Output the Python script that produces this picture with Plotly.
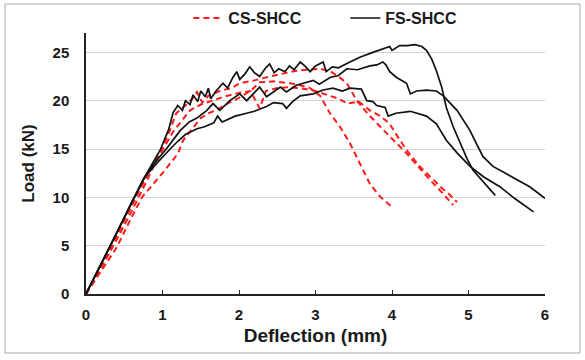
import plotly.graph_objects as go

# FS-SHCC specimens (black solid)
fs1_x = [0, 0.2, 0.4, 0.6, 0.76, 0.97, 1.08, 1.14, 1.2, 1.26, 1.3, 1.36, 1.4, 1.46, 1.5, 1.56, 1.6, 1.63, 1.7, 1.79,
         1.85, 1.92, 1.97, 2.01, 2.08, 2.14, 2.2, 2.27, 2.34, 2.4, 2.46, 2.52, 2.6, 2.66, 2.72, 2.8, 2.86, 2.93, 3.0,
         3.1, 3.14, 3.22, 3.3, 3.45, 3.58, 3.75, 3.9, 3.97, 4.0, 4.1, 4.2, 4.3, 4.39, 4.45, 4.52, 4.58, 4.65, 4.71,
         4.8, 4.89, 4.98, 5.06, 5.22, 5.35]
fs1_y = [0, 3.1, 6.3, 9.5, 12.0, 14.9, 17.0, 18.8, 19.5, 19.0, 20.0, 19.6, 20.6, 19.9, 21.0, 20.4, 21.3, 20.2, 21.0, 21.8,
         21.3, 22.4, 23.0, 22.2, 22.8, 23.5, 22.9, 22.5, 23.3, 23.8, 22.9, 23.3, 23.0, 23.6, 23.2, 24.0, 23.6, 23.0, 23.6,
         24.0, 23.0, 23.5, 23.4, 24.0, 24.5, 25.0, 25.4, 25.6, 25.2, 25.7, 25.7, 25.8, 25.6, 25.2, 24.3, 23.1, 21.4, 19.3,
         17.3, 15.6, 14.0, 12.8, 11.4, 10.2]

fs2_x = [0, 0.2, 0.4, 0.6, 0.76, 0.92, 1.05, 1.23, 1.35, 1.45, 1.58, 1.66, 1.75, 1.88, 2.01, 2.1, 2.27, 2.36, 2.54, 2.62,
         2.75, 2.97, 3.05, 3.19, 3.3, 3.41, 3.55, 3.71, 3.8, 3.88, 3.92, 3.97, 4.06, 4.19, 4.24, 4.32, 4.45, 4.58, 4.67,
         4.85, 5.02, 5.1, 5.19, 5.32, 5.58, 5.8, 6.0]
fs2_y = [0, 3.1, 6.3, 9.5, 12.0, 13.8, 15.0, 16.9, 17.8, 18.2, 19.0, 19.7, 19.0, 20.0, 20.7, 20.0, 21.4, 20.4, 21.4, 20.9,
         21.6, 22.1, 21.7, 22.4, 22.6, 23.3, 23.2, 23.6, 23.7, 24.0, 23.7, 23.0, 22.4, 21.8, 20.7, 21.0, 21.1, 21.0, 20.5,
         19.0, 16.9, 15.6, 14.2, 13.2, 12.1, 11.1, 9.9]

fs3_x = [0, 0.2, 0.4, 0.6, 0.76, 0.9, 1.0, 1.1, 1.2, 1.3, 1.45, 1.55, 1.67, 1.72, 1.78, 1.84, 1.95, 2.1, 2.2, 2.36, 2.45,
         2.57, 2.62, 2.7, 2.8, 2.97, 3.1, 3.23, 3.35, 3.45, 3.6, 3.67, 3.75, 3.8, 3.91, 3.95, 4.05, 4.24, 4.35, 4.45,
         4.58, 4.71, 4.85, 5.02, 5.2, 5.41, 5.6, 5.85]
fs3_y = [0, 3.1, 6.3, 9.5, 12.0, 13.3, 14.2, 15.0, 15.8, 16.5, 17.1, 17.3, 17.7, 18.4, 17.8, 18.0, 18.4, 18.7, 18.9, 19.4,
         19.8, 19.7, 19.2, 19.9, 20.5, 20.7, 21.1, 21.3, 21.0, 21.3, 21.2, 20.0, 19.9, 19.5, 19.3, 18.4, 18.7, 18.9, 18.6,
         18.4, 17.6, 15.9, 14.6, 13.2, 12.1, 11.1, 9.9, 8.5]

# CS-SHCC specimens (red dashed)
cs1_x = [0, 0.2, 0.4, 0.6, 0.8, 1.0, 1.1, 1.18, 1.3, 1.4, 1.45, 1.52, 1.6, 1.75, 1.9, 2.01, 2.2, 2.4, 2.6, 2.75, 2.9,
         3.06, 3.2, 3.3, 3.41, 3.54, 3.7, 3.89, 4.02, 4.15, 4.28, 4.41, 4.52, 4.63, 4.72, 4.8]
cs1_y = [0, 2.9, 6.0, 9.2, 12.3, 15.2, 17.0, 18.7, 19.5, 20.3, 20.9, 19.8, 20.5, 21.0, 21.3, 21.8, 22.1, 22.5, 22.8, 23.1,
         23.2, 23.3, 23.0, 22.5, 21.8, 20.0, 18.5, 16.9, 15.9, 14.9, 13.7, 12.5, 11.6, 10.7, 9.9, 9.2]

cs2_x = [0, 0.2, 0.4, 0.6, 0.8, 0.92, 1.0, 1.14, 1.25, 1.36, 1.5, 1.65, 1.8, 2.0, 2.15, 2.27, 2.35, 2.5, 2.65, 2.8, 3.0,
         3.15, 3.3, 3.42, 3.5, 3.55, 3.71, 3.85, 3.97, 4.08, 4.19, 4.3, 4.41, 4.52, 4.63, 4.75, 4.85]
cs2_y = [0, 2.7, 5.6, 8.6, 11.8, 13.8, 14.9, 16.8, 17.9, 19.0, 19.6, 20.0, 20.4, 20.8, 21.0, 19.2, 21.0, 21.3, 21.4, 21.3,
         21.0, 20.6, 20.2, 19.7, 19.8, 20.0, 19.0, 18.4, 17.6, 16.2, 14.9, 13.8, 12.8, 12.0, 11.1, 10.3, 9.5]

cs3_x = [0, 0.2, 0.4, 0.6, 0.74, 1.0, 1.2, 1.27, 1.38, 1.5, 1.6, 1.7, 1.85, 2.0, 2.15, 2.27, 2.45, 2.67, 2.8, 2.93, 3.06,
         3.19, 3.32, 3.45, 3.58, 3.71, 3.84, 4.0]
cs3_y = [0, 2.4, 4.8, 8.0, 10.1, 12.5, 14.5, 15.9, 17.0, 18.2, 18.7, 19.0, 19.7, 20.3, 21.0, 21.9, 22.0, 21.8, 21.6, 21.3,
         20.5, 18.7, 17.3, 15.6, 13.5, 11.4, 10.1, 9.0]

x_ticks = [0, 1, 2, 3, 4, 5, 6]
y_ticks = [0, 5, 10, 15, 20, 25]

FONT = "Liberation Sans, Arial, sans-serif"
RED = "#ff1a1a"

fig = go.Figure()
cs_sets = [(cs1_x, cs1_y), (cs2_x, cs2_y), (cs3_x, cs3_y)]
fs_sets = [(fs1_x, fs1_y), (fs2_x, fs2_y), (fs3_x, fs3_y)]
for i, (xs, ys) in enumerate(cs_sets):
    fig.add_trace(go.Scatter(x=xs, y=ys, mode="lines", name="CS-SHCC", legendgroup="cs",
                             showlegend=(i == 0),
                             line=dict(color=RED, width=2, dash="6px,4px")))
for i, (xs, ys) in enumerate(fs_sets):
    fig.add_trace(go.Scatter(x=xs, y=ys, mode="lines", name="FS-SHCC", legendgroup="fs",
                             showlegend=(i == 0),
                             line=dict(color="#111111", width=1.7)))

fig.update_layout(
    width=585, height=360,
    margin=dict(l=86, r=40, t=33, b=66, autoexpand=False),
    paper_bgcolor="white", plot_bgcolor="white",
    font=dict(family=FONT, size=15, color="#1a1a1a", weight="bold"),
    legend=dict(orientation="h", x=0.565, xanchor="center", y=1.057, yanchor="middle",
                font=dict(size=16, weight="bold", color="#1a1a1a"), itemwidth=30,
                entrywidth=112, bgcolor="rgba(0,0,0,0)"),
    xaxis=dict(range=[0, 6], tickvals=x_ticks, showgrid=False, zeroline=False,
               showline=True, linecolor="#222222", linewidth=1.5,
               ticks="inside", ticklen=4, tickcolor="#222222", tickwidth=1.2,
               ticklabelstandoff=6,
               tickfont=dict(size=15, weight="bold"),
               title=dict(text="Deflection (mm)", font=dict(size=19, weight="bold"), standoff=7)),
    yaxis=dict(range=[0, 27], tickvals=y_ticks, showgrid=True, gridcolor="#d4d4d4", gridwidth=1,
               zeroline=False, showline=True, linecolor="#222222", linewidth=1.5,
               ticks="", ticklabelstandoff=12,
               tickfont=dict(size=15, weight="bold"),
               title=dict(text="Load (kN)", font=dict(size=17, weight="bold"), standoff=14)),
    shapes=[dict(type="rect", xref="paper", yref="paper",
                 x0=(5 - 86) / 459, x1=(580 - 86) / 459,
                 y0=(294 - 353) / 261, y1=(294 - 4) / 261,
                 line=dict(color="#a8a8a8", width=1), fillcolor="rgba(0,0,0,0)", layer="below")],
)

fig.write_html("out.html")
